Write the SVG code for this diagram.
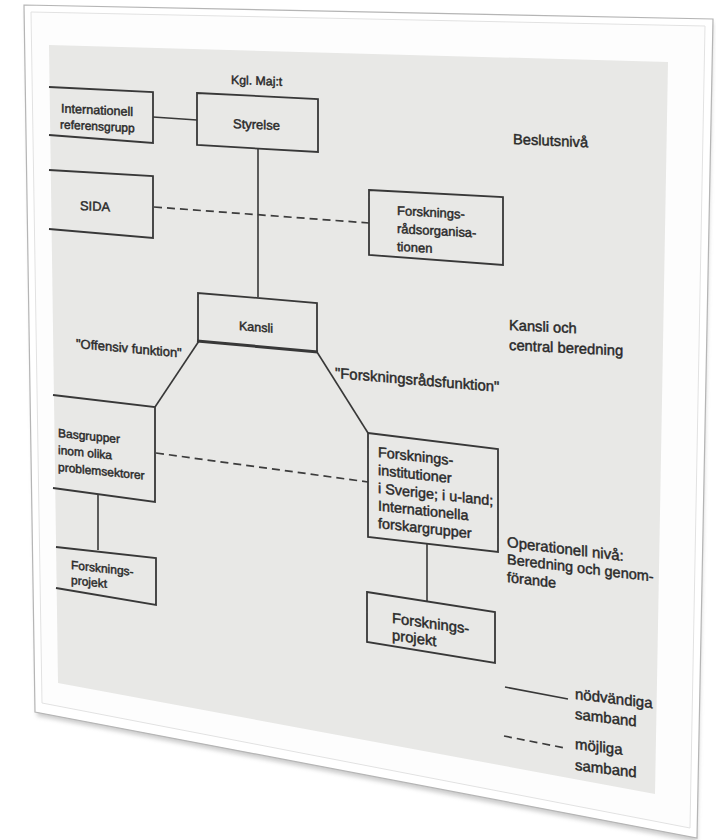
<svg xmlns="http://www.w3.org/2000/svg" width="716" height="840" viewBox="0 0 716 840">
<defs>
<style>
.t{font-family:"Liberation Sans",Arial,sans-serif;fill:#2a2a2a;stroke:#2a2a2a;stroke-width:0.45}
.box{fill:none;stroke:#383838;stroke-width:1.8;stroke-linejoin:miter}
.ln{fill:none;stroke:#383838;stroke-width:1.6}
.ds{fill:none;stroke:#3c3c3c;stroke-width:1.7;stroke-dasharray:8 5}
</style>
<filter id="sh" x="-5%" y="-5%" width="110%" height="115%">
<feGaussianBlur stdDeviation="2"/>
</filter>
</defs>
<rect width="716" height="840" fill="#ffffff"/>
<g id="frame">
<polygon points="26,9 713,23 697,842 37,716" fill="#9a9a9a" opacity="0.5" filter="url(#sh)"/>
<polygon points="24,5 713,19 697,838 35,712" fill="#ffffff" stroke="#b5b5b5" stroke-width="1.2"/>
<polygon points="31,12 705,26 690,828 42,703" fill="#fdfdfd" stroke="#e2e2e2" stroke-width="1"/>
</g>
<g id="page">
<polygon points="49,45 668,62 655,794 58,683" fill="#e8e8e6"/>
</g>
<g id="connectors">
<line class="ln" x1="153" y1="117" x2="197" y2="120"/>
<line class="ln" x1="258" y1="149" x2="258" y2="297"/>
<line class="ds" x1="154" y1="207" x2="369" y2="223"/>
<line class="ln" x1="199" y1="341" x2="155" y2="407"/>
<line class="ln" x1="317" y1="352" x2="368" y2="433"/>
<line class="ds" x1="156" y1="453" x2="368" y2="482"/>
<line class="ln" x1="98" y1="495" x2="98" y2="550"/>
<line class="ln" x1="427" y1="543" x2="427" y2="601"/>
</g>
<g id="node-kgl">
<text class="t" font-size="12.3" transform="matrix(1 0.035 0 1 231 84)">Kgl. Maj:t</text>
</g>
<g id="node-internationell">
<polyline class="box" points="49,87 153,92 153,143 49,135"/>
<text class="t" font-size="12.6" transform="matrix(1 0.05 0 1 61 112.5)">Internationell</text>
<text class="t" font-size="12" transform="matrix(1 0.05 0 1 60 128.5)">referensgrupp</text>
</g>
<g id="node-styrelse">
<polygon class="box" points="197,93 318,99 318,152 197,145"/>
<text class="t" font-size="13" transform="matrix(1 0.045 0 1 233 128)">Styrelse</text>
</g>
<g id="node-sida">
<polyline class="box" points="49,170 153,176 153,238 49,229"/>
<text class="t" font-size="12.9" transform="matrix(1 0.05 0 1 80 210)">SIDA</text>
</g>
<g id="node-forskningsrad">
<polygon class="box" points="369,190 503,197 503,265 369,255"/>
<text class="t" font-size="13" transform="matrix(1 0.055 0 1 397 215)">Forsknings-</text>
<text class="t" font-size="13" transform="matrix(1 0.055 0 1 397 233)">rådsorganisa-</text>
<text class="t" font-size="13" transform="matrix(1 0.055 0 1 397 251)">tionen</text>
</g>
<g id="node-kansli">
<polyline class="box" points="198,340 198,293 317,303 317,352"/>
<line x1="197" y1="341" x2="318" y2="352" stroke="#383838" stroke-width="3"/>
<text class="t" font-size="12.5" transform="matrix(1 0.08 0 1 239 330)">Kansli</text>
</g>
<g id="node-basgrupper">
<polyline class="box" points="53,395 155,407 155,502 53,488"/>
<text class="t" font-size="12" transform="matrix(1 0.1 0 1 58 437)">Basgrupper</text>
<text class="t" font-size="12" transform="matrix(1 0.1 0 1 58 454)">inom olika</text>
<text class="t" font-size="12" transform="matrix(1 0.1 0 1 58 471)">problemsektorer</text>
</g>
<g id="node-forskningsinstitutioner">
<polygon class="box" points="368,433 498,449 498,552 368,537"/>
<text class="t" font-size="14.4" transform="matrix(1 0.11 0 1 378 457)">Forsknings-</text>
<text class="t" font-size="14.4" transform="matrix(1 0.11 0 1 378 475)">institutioner</text>
<text class="t" font-size="14.4" transform="matrix(1 0.11 0 1 378 493)">i Sverige; i u-land;</text>
<text class="t" font-size="14.4" transform="matrix(1 0.11 0 1 378 510.5)">Internationella</text>
<text class="t" font-size="14.4" transform="matrix(1 0.11 0 1 378 528)">forskargrupper</text>
</g>
<g id="node-projekt-left">
<polyline class="box" points="56,547 156,558 156,605 56,588"/>
<text class="t" font-size="12" transform="matrix(1 0.11 0 1 71 569)">Forsknings-</text>
<text class="t" font-size="12" transform="matrix(1 0.11 0 1 71 584)">projekt</text>
</g>
<g id="node-projekt-right">
<polygon class="box" points="367,592 495,612 495,663 367,642"/>
<text class="t" font-size="14.8" transform="matrix(1 0.14 0 1 392 623)">Forsknings-</text>
<text class="t" font-size="14.8" transform="matrix(1 0.14 0 1 392 640)">projekt</text>
</g>
<g id="labels">
<text class="t" font-size="13" transform="matrix(1 0.09 0 1 76 348)">"Offensiv funktion"</text>
<text class="t" font-size="14.9" transform="matrix(1 0.085 0 1 335 378)">"Forskningsrådsfunktion"</text>
<text class="t" font-size="14.7" transform="matrix(1 0.045 0 1 513 144)">Beslutsnivå</text>
<text class="t" font-size="14.7" transform="matrix(1 0.05 0 1 509 330)">Kansli och</text>
<text class="t" font-size="14.8" transform="matrix(1 0.05 0 1 509 350)">central beredning</text>
<text class="t" font-size="15" transform="matrix(1 0.12 0 1 507 547)">Operationell nivå:</text>
<text class="t" font-size="14.5" transform="matrix(1 0.12 0 1 507 564)">Beredning och genom-</text>
<text class="t" font-size="14.5" transform="matrix(1 0.12 0 1 507 582)">förande</text>
</g>
<g id="legend">
<line class="ln" x1="505" y1="687" x2="568" y2="699" stroke-width="2"/>
<line class="ds" x1="504" y1="736" x2="565" y2="748" stroke-dasharray="11 5" stroke-width="2"/>
<text class="t" font-size="15" transform="matrix(1 0.12 0 1 575 699)">nödvändiga</text>
<text class="t" font-size="15" transform="matrix(1 0.12 0 1 575 719)">samband</text>
<text class="t" font-size="15" transform="matrix(1 0.12 0 1 575 749)">möjliga</text>
<text class="t" font-size="15" transform="matrix(1 0.12 0 1 575 770)">samband</text>
</g>
</svg>
